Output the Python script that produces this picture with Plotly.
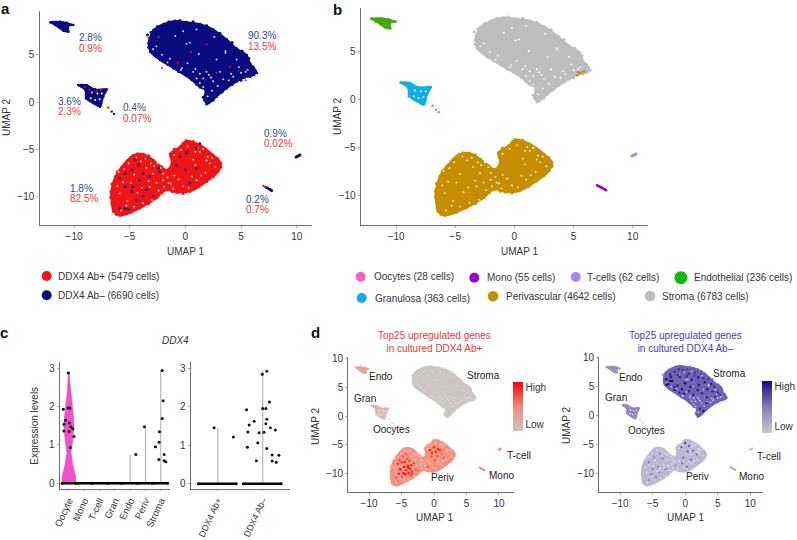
import plotly.graph_objects as go

OFF = 0
W, H = 797, 540
FONT = "Liberation Sans"
GREY = "#6e6e6e"
TXT = "#333333"

# ---------- UMAP cluster outlines ----------
stroma_x = [-3.23,-2.87,-1.98,-0.93,0.12,1.32,2.51,3.71,4.6,5.51,5.81,6.32,6.17,5.36,4.61,3.71,2.81,2.07,1.68,1.77,1.32,0.57,-1.08,-2.28,-3.17,-3.32]
stroma_y = [6.75,7.63,8.27,8.62,8.48,8.27,7.7,6.64,5.69,4.98,4.1,3.32,2.86,2.61,2.16,1.45,0.57,-0.14,0.21,1.27,1.55,2.33,3.57,4.45,5.34,6.22]
periv_x = [-6.68,-6.32,-5.72,-4.67,-3.77,-2.87,-2.13,-1.68,-1.23,-1.38,-0.48,0.06,1.32,2.51,3.2,2.96,1.92,0.42,-0.78,-1.68,-2.57,-4.07,-5.87,-6.47,-6.62]
periv_y = [-9.5,-7.92,-6.86,-5.62,-5.51,-6.15,-6.86,-7.2,-6.5,-5.51,-4.73,-4.1,-4.56,-5.62,-6.5,-7.39,-8.45,-9.5,-9.61,-9.33,-10.2,-11.27,-12.05,-11.63,-10.74]
endo_x = [-12.1,-11.26,-10.66,-10.06,-10.5,-10.5,-10.96,-11.7]
endo_y = [8.45,8.52,8.41,8.16,8.05,7.45,7.56,8.16]
gran_x = [-9.61,-8.86,-8.11,-7.07,-7.37,-7.66,-8.26,-8.92,-9.0]
gran_y = [1.8,1.8,1.34,1.34,0.57,-0.49,-0.14,0.39,1.27]
oocyte_x = [-6.92,-6.62,-6.41]
oocyte_y = [-0.6,-1.02,-1.27]
mono_x = [7.0,7.2,7.4,7.6,7.75]
mono_y = [-8.9,-9.02,-9.14,-9.28,-9.4]
tcell_x = [9.94,10.05,10.18,10.3]
tcell_y = [-5.85,-5.78,-5.7,-5.62]

# Cells that sit on the rim of the two large clusters
stroma_edge_x = [-3.4,-3.1,-2.5,-1.5,-0.5,0.7,1.9,3.1,4.2,5.1,5.7,6.1,6.4,5.8,5.0,4.2,3.3,2.5,1.9,1.6,1.0,0.0,-0.6,-1.6,-2.7,-3.3]
stroma_edge_y = [7.1,7.4,8.0,8.5,8.65,8.5,8.1,7.3,6.3,5.4,4.6,3.7,3.1,2.7,2.3,1.85,1.05,0.2,-0.2,0.5,1.9,2.9,3.2,4.0,4.9,5.8]
periv_edge_x = [-6.6,-6.1,-5.2,-4.3,-3.3,-2.5,-1.0,-0.2,0.7,1.9,2.9,3.2,2.5,1.2,-0.2,-1.2,-2.2,-3.3,-4.9,-6.2,-6.7,-6.4]
periv_edge_y = [-8.7,-7.4,-6.2,-5.5,-5.7,-6.6,-5.0,-4.4,-4.2,-5.1,-6.0,-6.9,-7.9,-9.0,-9.7,-9.5,-9.8,-10.8,-11.7,-11.9,-10.1,-11.2]

# ---------- Speckles ----------
periv_navy_x = [-4.5,-4.2,-4.8,-3.8,-5.4,-5.9,-4.1,-3.2,-4.7,-5.4,-3.5,-4.8,-5.9,-5.4,-5.1,-2.4,-2.3,-0.5,0.1,1.0,1.3,0,1.0,0.4,-0.8,-2.9,-3.8,-4.4]
periv_navy_y = [-6.1,-6.7,-7.2,-7.6,-7.6,-8.1,-8.3,-7.9,-9.0,-9.0,-9.3,-9.5,-11.3,-11.3,-11.4,-7.0,-7.4,-5.8,-5.4,-4.9,-4.4,-7.2,-7.0,-8.6,-6.7,-10.0,-10.0,-10.4]
periv_hole_x = [-2.5,-2,-1.6,-1,-1.3,-2,1.3,0.9,2,1.8,-3.5,-4.9,-5.2,-4.6,-3.8,-6,-3.2,-2.6,-2.8,-2.2,-1.8,0.7,2.2,1.4,-5.6,-4.3,
                -5.9,-5.5,-5.1,-4.4,-4.0,-3.6,-3.1,-2.9,-2.4,-1.9,-1.5,-1.1,-0.6,-0.2,0.3,0.6,1.0,1.6,2.4,2.7,1.1,0.2,-0.4,-3.3,-3.9,-4.6,-5.3,-5.8,-6.1,-3.0,-2.2,-1.0,0.9,1.9]
periv_hole_y = [-6.5,-7.6,-8,-7.8,-8.7,-8.3,-5.3,-5.3,-5.8,-7.5,-7,-8.6,-10.5,-11.1,-10.7,-7.4,-9,-8.6,-6.8,-7,-6.8,-6.1,-6.5,-7.8,-8.5,-9.6,
                -9.7,-7.1,-6.5,-5.9,-6.3,-6.0,-6.5,-7.6,-9.4,-9.0,-8.6,-9.2,-8.2,-8.9,-9.1,-7.9,-8.3,-5.0,-5.9,-6.9,-4.9,-4.7,-5.1,-8.4,-9.1,-7.7,-11.0,-11.5,-8.9,-10.4,-9.9,-5.6,-6.7,-6.2]
stroma_hole_x = [0.1,0.4,-0.2,1.3,1.6,1.9,2.1,1.6,1.3,1.0,2.8,4.3,5.6,5.4,3.1,2.5,-0.9,-2.1,3.6,0.2,
                 -2.9,-1.6,-0.4,0.9,1.2,2.3,3.4,4.1,4.8,5.0,3.9,2.9,2.4,2.0,0.7,-0.3,-1.4,-2.6,1.0,2.6,3.6,4.6]
stroma_hole_y = [6.2,6.3,7.5,3.0,2.5,3.2,2.9,1.6,2.0,2.5,4.5,2.7,3.4,3.2,3.2,2.2,7.0,5.0,5.2,4.1,
                 5.6,4.2,3.4,3.5,5.1,2.6,2.4,3.0,3.7,3.1,2.3,1.7,1.2,0.6,3.2,3.6,4.6,5.9,7.7,6.9,5.4,4.5]
stroma_red_x = [-2.4,-3.3,0.5,-0.7,-2.1,1.5,2.8,5.4,5.5,4.0,1.9]
stroma_red_y = [6.9,6.7,5.3,4.2,3.6,2.5,3.1,2.3,3.4,3.7,6.1]
gran_red_x = [-9.0,-8.6,-8.0,-7.6,-8.4]
gran_red_y = [1.6,1.3,1.2,1.3,0.9]
gran_hole_x = [-8.4,-7.9,-7.7,-8.1,-7.5,-8.5]
gran_hole_y = [1.0,0.9,0.3,0.2,0.9,0.4]
stroma_periv_x = [5.3,5.5,5.7,5.9,5.4]
stroma_periv_y = [2.55,2.75,2.9,3.0,2.9]

# ---------- Panel legends and labels ----------
legend_a = ["DDX4 Ab+ (5479 cells)", "DDX4 Ab\u2013 (6690 cells)"]
legend_a_colors = ["#f01414", "#0b0b80"]
legend_b = ["Oocytes (28 cells)", "Mono (55 cells)", "T-cells (62 cells)", "Endothelial (236 cells)",
            "Granulosa (363 cells)", "Perivascular (4642 cells)", "Stroma (6783 cells)"]
legend_b_colors = ["#f45ccf", "#a000d8", "#a884f5", "#10b810", "#10aee8", "#c48e00", "#bdbdbd"]

# ---------- Panel c: DDX4 expression ----------
cell_types = ["Oocyte", "Mono", "T-cell", "Gran", "Endo", "Periv", "Stroma"]
violin_level = [0, 0.2, 0.45, 0.8, 1.1, 1.5, 1.8, 2.0, 2.3, 2.6, 2.9]
violin_halfwidth = [0.47, 0.42, 0.27, 0.13, 0.24, 0.33, 0.28, 0.22, 0.12, 0.07, 0.02]
zero_span = [-0.44, 0.44]
oocyte_off = [-0.04,-0.37,-0.04,0.07,-0.22,-0.31,-0.33,0.02,0.13,0.02,0.26,0.33,0.09]
oocyte_val = [2.87,1.93,1.96,1.96,1.64,1.54,1.36,1.57,1.47,1.35,1.42,1.22,0.93]
stroma_off = [0.09,0.15,0.09,-0.09,-0.11,-0.35,0.22,-0.13,0.22,0.33]
stroma_val = [2.94,2.15,1.69,1.34,1.07,0.95,0.75,0.62,0.59,0.56]
endo_off, endo_val = [0.37], [0.75]
periv_off, periv_val = [-0.07], [1.47]
stick_idx = [4, 5, 6]
stick_top = [0.75, 1.47, 2.94]

ab_groups = ["DDX4 Ab+", "DDX4 Ab\u2013"]
ab_zero_span = [-0.43, 0.41]
abpos_off, abpos_val = [-0.08, 0.35], [1.46, 1.22]
abneg_off = [-0.01,0.09,0.15,-0.36,0,0.07,-0.19,0.09,0.07,-0.3,0.17,0.28,-0.33,-0.08,0.03,-0.11,-0.34,0.09,0.21,0.36,-0.14,0.21,0.3]
abneg_val = [2.85,2.93,2.13,1.93,1.96,1.96,1.63,1.68,1.56,1.53,1.46,1.40,1.35,1.33,1.34,1.07,0.95,0.92,0.75,0.74,0.60,0.59,0.56]
ab_stick_top = [1.46, 2.95]

# ---------- Panel d: expression speckles ----------
periv_hot_x = [-5.6,-5.2,-4.9,-4.6,-4.3,-4.0,-3.7,-3.4,-3.1,-5.4,-5.0,-4.4,-4.1,-3.8,-3.6,-3.3,-4.8,-4.5,-4.2,-3.9,-5.3,-4.7,-4.0,-3.5,-0.6,-0.3,0.0,0.3,0.6,0.9,-0.4,0.1,0.5,1.1,1.5,-2.8,-2.4,-5.8,-5.5,-1.0]
periv_hot_y = [-8.3,-9.2,-8.0,-8.8,-9.4,-8.6,-9.1,-9.6,-8.2,-10.0,-10.5,-10.1,-7.4,-7.8,-10.3,-10.0,-7.0,-7.9,-6.6,-9.9,-7.6,-9.9,-8.9,-8.5,-5.9,-6.4,-5.4,-6.2,-5.7,-5.9,-7.0,-7.6,-6.9,-6.5,-7.2,-9.2,-9.5,-10.6,-11.2,-8.8]
periv_hot_val = [0.85,0.95,0.8,1,0.95,0.9,1,0.85,0.75,0.9,0.7,0.95,0.75,0.8,0.8,0.7,0.7,0.95,0.65,0.9,0.75,1,1,0.9,0.9,0.85,0.8,0.85,0.9,0.85,0.7,0.65,0.7,0.6,0.6,0.7,0.6,0.7,0.6,0.7]
stroma_blue_x = [-2.9,-2.6,-2.3,-2.0,-1.6,-1.2,-0.8,-0.4,0.0,0.5,1.0,1.5,2.0,2.5,3.0,3.5,4.0,4.5,-2.8,-2.2,-1.7,-1.1,-0.5,0.2,0.8,1.4,2.1,2.8,3.4,4.2,5.0,-1.6,-0.9,-0.2,0.6,1.2,2.6,3.3,4.6,5.4,2.3,2.8,3.3,-2.4,-1.0,0.3,1.9]
stroma_blue_y = [6.3,5.5,7.1,6.0,7.6,5.2,6.7,7.9,5.6,7.2,6.2,7.5,6.6,7.2,5.8,6.3,5.5,5.0,5.4,6.7,5.0,7.0,4.6,6.8,5.0,6.9,5.3,6.5,4.6,4.2,4.0,4.4,4.0,3.8,4.2,3.6,3.9,3.2,3.3,3.6,1.2,0.8,2.2,6.0,8.0,8.0,4.4]
stroma_blue_val = [1,0.95,0.9,1,0.85,0.95,0.9,0.8,1,0.85,0.9,0.8,0.95,0.7,0.95,0.8,0.9,0.85,1,0.95,0.9,0.85,0.9,0.8,0.95,0.75,0.9,0.8,0.9,0.85,0.8,0.95,0.85,0.9,0.9,0.95,0.85,0.9,0.85,0.8,0.9,0.95,0.9,1,0.85,0.75,0.9]
periv_blue_x = [-5.6,-4.8,-4.2,-3.5,-3.0,-5.2,-4.5,-3.9,-5.0,-0.6,0.0,0.6,1.2,1.8,-0.3,0.4,0.9,-0.5,-1.5,0.3,-4.0,-5.5]
periv_blue_y = [-8.0,-7.2,-8.8,-7.4,-9.2,-10.1,-10.6,-6.5,-9.2,-5.4,-4.7,-5.2,-6.0,-6.7,-7.2,-6.2,-7.6,-8.2,-8.6,-8.8,-9.8,-11.1]
periv_blue_val = [0.5,0.5,0.45,0.5,0.45,0.5,0.5,0.5,0.45,0.65,0.85,0.7,0.6,0.55,0.65,0.7,0.55,0.6,0.5,0.55,0.45,0.5]

d_labels = ["Endo", "Stroma", "Gran", "Oocytes", "T-cell", "Mono", "Periv"]
d_ticks = [-10, -5, 0, 5, 10]

fig = go.Figure()


def px(x):
    return (x - OFF) / W


def py(y):
    return 1 - (y - OFF) / H


def dom_x(a, b):
    return [px(a), px(b)]


def dom_y(top, bottom):
    return [py(bottom), py(top)]


axis_common = dict(showgrid=False, zeroline=False, showline=True, linecolor=GREY, linewidth=1.2,
                   ticks="outside", ticklen=2, tickwidth=1, tickcolor="#aaaaaa",
                   tickfont=dict(family=FONT, size=10, color=TXT))

panels = {
    "": dict(x=(39.5, 312), y=(11, 224.5), xr=(-13.1, 11.37), yr=(-12.99, 9.65)),
    "2": dict(x=(360.7, 648), y=(8, 224.5), xr=(-13.0, 11.3), yr=(-12.97, 9.58)),
    "5": dict(x=(348.3, 514.3), y=(356.7, 491.7), xr=(-13.2, 12.36), yr=(-13.1, 10.3)),
    "6": dict(x=(599.3, 763.3), y=(356.7, 491.7), xr=(-13.2, 12.0), yr=(-13.1, 10.2)),
}
for k, p in panels.items():
    fig.layout["xaxis" + k] = dict(axis_common, domain=dom_x(*p["x"]), range=list(p["xr"]), anchor="y" + k,
                                   tickvals=d_ticks)
    fig.layout["yaxis" + k] = dict(axis_common, domain=dom_y(*p["y"]), range=list(p["yr"]), anchor="x" + k,
                                   tickvals=[-10, -5, 0, 5] if k in ("", "2") else [-10, -5, 0, 5, 10])
rot_axis = dict(axis_common, ticklen=1, tickfont=dict(family=FONT, size=9.6, color=TXT), tickangle=-65)
fig.layout["xaxis3"] = dict(rot_axis, domain=dom_x(59.7, 170), range=[-0.6, 6.6], anchor="y3",
                            tickmode="array", tickvals=list(range(7)), ticktext=cell_types)
fig.layout["yaxis3"] = dict(axis_common, domain=dom_y(361.7, 489.3), range=[-0.156, 3.166], anchor="x3", tickvals=[0, 1, 2, 3])
fig.layout["xaxis4"] = dict(rot_axis, domain=dom_x(190.7, 289.7), range=[-0.6, 1.6], anchor="y4",
                            tickfont=dict(family=FONT, size=9, color=TXT),
                            tickmode="array", tickvals=[0, 1], ticktext=ab_groups)
fig.layout["yaxis4"] = dict(axis_common, domain=dom_y(361.7, 489.3), range=[-0.145, 3.18], anchor="x4", tickvals=[0, 1, 2, 3])


def blob(xs, ys, color, k, size=2.6):
    fig.add_trace(go.Scatter(x=xs + xs[:1], y=ys + ys[:1], mode="lines+markers", fill="toself", fillcolor=color,
                             line=dict(color=color, width=1.5, shape="spline", smoothing=1.0),
                             marker=dict(color=color, size=size),
                             xaxis="x" + k, yaxis="y" + k, hoverinfo="skip", showlegend=False))


def line(xs, ys, color, k, width=2.4):
    fig.add_trace(go.Scatter(x=xs, y=ys, mode="lines+markers", line=dict(color=color, width=width),
                             marker=dict(color=color, size=width + 0.4),
                             xaxis="x" + k, yaxis="y" + k, hoverinfo="skip", showlegend=False))


def dots(xs, ys, color, k, size=2.4):
    fig.add_trace(go.Scatter(x=xs, y=ys, mode="markers", marker=dict(color=color, size=size, line=dict(width=0)),
                             xaxis="x" + k, yaxis="y" + k, hoverinfo="skip", showlegend=False))


def cdots(xs, ys, vals, ca, k, size=2.6):
    fig.add_trace(go.Scatter(x=xs, y=ys, mode="markers",
                             marker=dict(color=vals, coloraxis=ca, size=size, line=dict(width=0)),
                             xaxis="x" + k, yaxis="y" + k, hoverinfo="skip", showlegend=False))


# Panel a
RED, NAVY = legend_a_colors
blob(stroma_x, stroma_y, NAVY, "")
dots(stroma_edge_x, stroma_edge_y, NAVY, "", 3)
blob(endo_x, endo_y, NAVY, "")
blob(gran_x, gran_y, NAVY, "")
blob(periv_x, periv_y, RED, "")
dots(periv_edge_x, periv_edge_y, RED, "", 3)
line(tcell_x, tcell_y, NAVY, "")
line(mono_x[1:], mono_y[1:], NAVY, "")
line(mono_x[:2], mono_y[:2], RED, "", 1.8)
dots(oocyte_x[1:], oocyte_y[1:], NAVY, "")
dots(oocyte_x[:1], oocyte_y[:1], RED, "")
dots(stroma_hole_x, stroma_hole_y, "#ffffff", "", 1.8)
dots(periv_hole_x, periv_hole_y, "#ffffff", "", 1.8)
dots(gran_hole_x, gran_hole_y, "#ffffff", "", 2)
dots(stroma_red_x, stroma_red_y, RED, "", 2)
dots(gran_red_x, gran_red_y, RED, "", 2)
dots(periv_navy_x, periv_navy_y, NAVY, "", 2.6)

# Panel b
col = dict(zip(["Oocytes", "Mono", "T", "Endo", "Gran", "Periv", "Stroma"], legend_b_colors))
blob(stroma_x, stroma_y, col["Stroma"], "2")
dots(stroma_edge_x, stroma_edge_y, col["Stroma"], "2", 3)
blob(endo_x, endo_y, "#45a80c", "2")
blob(gran_x, gran_y, col["Gran"], "2")
blob(periv_x, periv_y, col["Periv"], "2")
dots(periv_edge_x, periv_edge_y, col["Periv"], "2", 3)
line(tcell_x, tcell_y, col["T"], "2")
line(mono_x, mono_y, col["Mono"], "2")
dots(oocyte_x, oocyte_y, col["Oocytes"], "2")
dots(stroma_hole_x, stroma_hole_y, "#ffffff", "2", 1.8)
dots(periv_hole_x, periv_hole_y, "#ffffff", "2", 1.8)
dots(gran_hole_x, gran_hole_y, "#ffffff", "2", 2)
dots(stroma_periv_x, stroma_periv_y, col["Periv"], "2", 2.4)

# Panel c
fig.add_trace(go.Scatter(x=violin_halfwidth + [-o for o in violin_halfwidth[::-1]],
                         y=violin_level + violin_level[::-1], mode="lines", fill="toself",
                         fillcolor="#f24fc8", line=dict(color="#d94ab8", width=0.6),
                         xaxis="x3", yaxis="y3", hoverinfo="skip", showlegend=False))
for i, t in zip(stick_idx, stick_top):
    fig.add_trace(go.Scatter(x=[i, i], y=[0, t], mode="lines", line=dict(color="#b5b5b5", width=1.2),
                             xaxis="x3", yaxis="y3", hoverinfo="skip", showlegend=False))
for i in range(len(cell_types)):
    line([i + o for o in zero_span], [0, 0], "#000000", "3", 2.6)
dots(oocyte_off, oocyte_val, "#111111", "3", 3)
dots([6 + o for o in stroma_off], stroma_val, "#111111", "3", 3)
dots([4 + o for o in endo_off], endo_val, "#111111", "3", 3)
dots([5 + o for o in periv_off], periv_val, "#111111", "3", 3)

for i, t in enumerate(ab_stick_top):
    fig.add_trace(go.Scatter(x=[i, i], y=[0, t], mode="lines", line=dict(color="#b5b5b5", width=1.2),
                             xaxis="x4", yaxis="y4", hoverinfo="skip", showlegend=False))
for i in range(2):
    line([i + o for o in ab_zero_span], [0, 0], "#000000", "4", 2.6)
dots(abpos_off, abpos_val, "#111111", "4", 3)
dots([1 + o for o in abneg_off], abneg_val, "#111111", "4", 3)

# Panel d left
blob(stroma_x, stroma_y, "#cbc6c4", "5", 1.8)
dots(stroma_edge_x, stroma_edge_y, "#cbc6c4", "5", 2)
blob(endo_x, endo_y, "#e8a594", "5", 1.8)
blob(gran_x, gran_y, "#dcb8ae", "5", 1.8)
blob(periv_x, periv_y, "#f0937f", "5", 1.8)
dots(periv_edge_x, periv_edge_y, "#f0937f", "5", 2)
line(tcell_x, tcell_y, "#ee8a78", "5", 1.5)
line(mono_x, mono_y, "#ee8270", "5", 1.5)
dots(oocyte_x, oocyte_y, "#d8c4be", "5", 1.5)
dots(stroma_hole_x, stroma_hole_y, "#e6e2e0", "5", 1.3)
dots(periv_hole_x, periv_hole_y, "#ffc9bd", "5", 1.8)
dots(gran_hole_x, gran_hole_y, "#ffffff", "5", 1.3)
cdots(periv_hot_x, periv_hot_y, periv_hot_val, "coloraxis", "5", 2.4)

# Panel d right
blob(stroma_x, stroma_y, "#7262b2", "6", 1.8)
dots(stroma_edge_x, stroma_edge_y, "#7262b2", "6", 2)
blob(endo_x, endo_y, "#9a90bc", "6", 1.8)
blob(gran_x, gran_y, "#9486c4", "6", 1.8)
blob(periv_x, periv_y, "#bdb8d2", "6", 1.8)
dots(periv_edge_x, periv_edge_y, "#bdb8d2", "6", 2)
line(tcell_x, tcell_y, "#b8b8c8", "6", 1.2)
line(mono_x, mono_y, "#9c98b8", "6", 1.2)
dots(oocyte_x, oocyte_y, "#c4c0d0", "6", 1.5)
dots(stroma_hole_x, stroma_hole_y, "#e8e6f2", "6", 1.6)
dots(periv_hole_x, periv_hole_y, "#e2e0ea", "6", 1.8)
dots(gran_hole_x, gran_hole_y, "#ffffff", "6", 1.3)
cdots(stroma_blue_x, stroma_blue_y, stroma_blue_val, "coloraxis2", "6", 2.6)
cdots(periv_blue_x, periv_blue_y, periv_blue_val, "coloraxis2", "6", 2.2)


def cbar(x, top, length):
    return dict(x=px(x), xanchor="left", y=py(top), yanchor="top", len=length, lenmode="pixels",
                thickness=10, thicknessmode="pixels", outlinewidth=0, xpad=0, ypad=0,
                tickmode="array", tickvals=[0.12, 0.88], ticktext=["Low", "High"], ticks="",
                tickfont=dict(family=FONT, size=10, color=TXT))


fig.update_layout(
    coloraxis=dict(cmin=0, cmax=1, colorscale=[[0, "#c8c4c4"], [0.5, "#f08a78"], [1, "#ff0000"]],
                   colorbar=cbar(512.7, 381.7, 49)),
    coloraxis2=dict(cmin=0, cmax=1, colorscale=[[0, "#c8c8cc"], [0.5, "#8a7ab8"], [1, "#10107c"]],
                    colorbar=cbar(762.3, 380.7, 52)),
)

# Text
ann = []


def text(s, x, y, size=10, color=TXT, anchor="center", angle=0, bold=False, italic=False):
    ann.append(dict(text=("<b>%s</b>" % s) if bold else (("<i>%s</i>" % s) if italic else s),
                    x=px(x), y=py(y), xref="paper", yref="paper", xanchor=anchor, yanchor="middle",
                    showarrow=False, textangle=angle, font=dict(family=FONT, size=size, color=color),
                    align="center"))


for s, x, y in [("a", 5, 8), ("b", 337, 9), ("c", 4, 332), ("d", 315, 332)]:
    text(s, x, y, 15, "#111111", bold=True)

BL, RD = "#2f4a84", "#e8383a"
pct = [("2.8%", "0.9%", 76.7, 37.7, 48.3), ("90.3%", "13.5%", 246, 35.7, 46.7),
       ("3.6%", "2.3%", 55.7, 101.7, 111.7), ("0.4%", "0.07%", 121.3, 107.7, 118.2),
       ("0.9%", "0.02%", 261.7, 133.7, 144), ("1.8%", "82.5%", 68.3, 188.7, 198.7),
       ("0.2%", "0.7%", 243.7, 199.7, 209.3)]
for a_, b_, x, y1, y2 in pct:
    text(a_, x, y1, 10, BL, "left")
    text(b_, x, y2, 10, RD, "left")

text("UMAP 1", 185.3, 251.5, 10)
text("UMAP 2", 6, 118, 10, angle=-90)
text("UMAP 1", 519, 251.5, 10)
text("UMAP 2", 337, 117, 10, angle=-90)
text("DDX4", 175, 340, 10, italic=True)
text("Expression levels", 35, 425.7, 10, angle=-90)
text("Top25 upregulated genes<br>in cultured DDX4 Ab+", 434.3, 342, 10, "#e83a3a")
text("Top25 upregulated genes<br>in cultured DDX4 Ab\u2013", 685, 342, 10, "#3c3ccc")
text("UMAP 1", 434, 517, 10)
text("UMAP 1", 685, 517, 10)
text("UMAP 2", 315, 427, 10, angle=-90)
text("UMAP 2", 566, 426, 10, angle=-90)

pos_l = [(380.7, 376.7), (483.3, 375), (365.3, 398.7), (391.7, 429.7), (519, 455.7), (501.7, 475.7), (442.7, 477.7)]
pos_r = [(631.3, 377.7), (729.3, 373.3), (615.7, 397.7), (646, 430.7), (769, 456), (751, 476.3), (697.3, 476)]
for name, (x, y) in zip(d_labels, pos_l):
    text(name, x, y, 10, "#222222")
for name, (x, y) in zip(d_labels, pos_r):
    text(name, x, y, 10, "#222222")

shapes = []


def circle(cx, cy, r, color):
    shapes.append(dict(type="circle", xref="paper", yref="paper", x0=px(cx - r), x1=px(cx + r),
                       y0=py(cy + r), y1=py(cy - r), fillcolor=color, line=dict(width=0)))


text(legend_a[0], 56, 276.3, 10, "#333333", "left")
text(legend_a[1], 56, 295.5, 10, "#333333", "left")
circle(46.7, 276, 5, legend_a_colors[0])
circle(46.7, 295.3, 5, legend_a_colors[1])

lb = [(360.7, 276.7, 371.7, 5), (474.3, 277.7, 484.7, 5), (575.7, 277, 585, 5), (681, 277.7, 692.3, 6.5),
      (361.7, 298, 372.7, 5), (493, 296.3, 504.3, 5.3), (650, 296, 660.3, 5.3)]
for s, c, (cx, cy, tx, r) in zip(legend_b, legend_b_colors, lb):
    circle(cx, cy, r, c)
    text(s, tx, cy, 10, "#333333", "left")

fig.update_layout(width=W, height=H, autosize=False,
                  margin=dict(l=0, r=0, t=0, b=0, pad=0, autoexpand=False),
                  paper_bgcolor="#ffffff", plot_bgcolor="#ffffff", showlegend=False,
                  annotations=ann, shapes=shapes)
fig.write_html("out.html", config={"displayModeBar": False},
               post_script="document.body.style.margin='0';")
